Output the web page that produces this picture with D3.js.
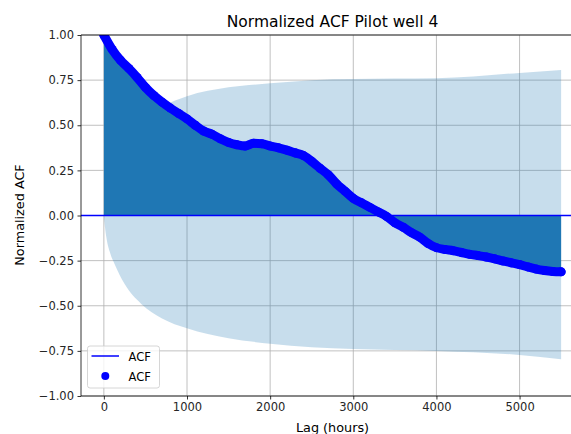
<!DOCTYPE html>
<html><head><meta charset="utf-8">
<script src="https://cdn.jsdelivr.net/npm/d3@7"></script>
<style>body{margin:0;background:#fff}svg{display:block;font-family:"DejaVu Sans",sans-serif}</style>
</head><body>
<svg id="c" width="571" height="434"></svg>
<script>
const lags = [0,100,200,300,400,500,600,700,800,900,1000,1100,1200,1300,1400,1500,1600,1700,1800,1900,2000,2100,2200,2300,2400,2500,2600,2700,2800,2900,3000,3100,3200,3300,3400,3500,3600,3700,3800,3900,4000,4100,4200,4300,4400,4500,4600,4700,4800,4900,5000,5100,5200,5300,5400,5500];
const acf = [1.00,0.92,0.86,0.815,0.765,0.71,0.665,0.628,0.595,0.565,0.535,0.50,0.468,0.45,0.425,0.405,0.392,0.385,0.40,0.398,0.385,0.375,0.362,0.347,0.332,0.30,0.262,0.225,0.175,0.135,0.095,0.07,0.045,0.02,-0.005,-0.04,-0.065,-0.095,-0.12,-0.155,-0.178,-0.188,-0.195,-0.205,-0.215,-0.222,-0.23,-0.24,-0.252,-0.262,-0.272,-0.285,-0.297,-0.305,-0.31,-0.312];
const bandLags = [0,10,30,70,130,250,450,700,1000,1500,2000,2500,3000,4000,5000,5500];
const bandUpper = [0,0.05,0.12,0.2,0.27,0.39,0.51,0.60,0.66,0.71,0.732,0.75,0.756,0.76,0.79,0.806];
const bandLower = [0,-0.05,-0.12,-0.2,-0.27,-0.38,-0.49,-0.57,-0.625,-0.68,-0.71,-0.73,-0.74,-0.75,-0.773,-0.797];
const xTicks = [0,1000,2000,3000,4000,5000];
const yTicks = [-1,-0.75,-0.5,-0.25,0,0.25,0.5,0.75,1];
const title = "Normalized ACF Pilot well 4";
const xLabel = "Lag (hours)";
const yLabel = "Normalized ACF";
const legendLabels = ["ACF","ACF"];

const L=81,R=584,T=35,B=396;
const svg=d3.select("#c");
const x=d3.scaleLinear().domain([-275,5775]).range([L,R]);
const y=d3.scaleLinear().domain([-1,1]).range([B,T]);
svg.append("defs").append("clipPath").attr("id","clip").append("rect").attr("x",L).attr("y",T).attr("width",R-L).attr("height",B-T);

// grid
const g=svg.append("g");
g.selectAll(".gx").data(xTicks).join("line").attr("x1",d=>x(d)).attr("x2",d=>x(d)).attr("y1",T).attr("y2",B).attr("stroke","#b0b0b0").attr("stroke-width",0.8);
g.selectAll(".gy").data(yTicks).join("line").attr("y1",d=>y(d)).attr("y2",d=>y(d)).attr("x1",L).attr("x2",R).attr("stroke","#b0b0b0").attr("stroke-width",0.8);

const plot=svg.append("g").attr("clip-path","url(#clip)");
const band=bandLags.map((l,i)=>({l,u:bandUpper[i],d:bandLower[i]}));
plot.append("path").datum(band).attr("d",d3.area().x(d=>x(d.l)).y0(d=>y(d.d)).y1(d=>y(d.u)).curve(d3.curveMonotoneX)).attr("fill","#1f77b4").attr("fill-opacity",0.25);
const pts=lags.map((l,i)=>({l,v:acf[i]}));
plot.append("path").datum(pts).attr("d",d3.area().x(d=>x(d.l)).y0(y(0)).y1(d=>y(d.v))).attr("fill","#1f77b4");
plot.append("line").attr("x1",L).attr("x2",R).attr("y1",y(0)).attr("y2",y(0)).attr("stroke","#0000ff").attr("stroke-width",1.5);
plot.append("path").datum(pts).attr("d",d3.line().x(d=>x(d.l)).y(d=>y(d.v)).curve(d3.curveMonotoneX)).attr("fill","none").attr("stroke","#0000ff").attr("stroke-width",9).attr("stroke-linecap","round").attr("stroke-linejoin","round");
plot.selectAll(".dot").data(pts).join("circle").attr("cx",d=>x(d.l)).attr("cy",d=>y(d.v)).attr("r",4.5).attr("fill","#0000ff");

// axes
const ax=svg.append("g").attr("transform",`translate(0,${B})`).call(d3.axisBottom(x).tickValues(xTicks).tickFormat(d3.format("d")).tickSize(3.5).tickPadding(3.5));
const ay=svg.append("g").attr("transform",`translate(${L},0)`).call(d3.axisLeft(y).tickValues(yTicks).tickFormat(d=>d3.format(".2f")(d).replace("-","\u2212")).tickSize(3.5).tickPadding(3.5));
[ax,ay].forEach(a=>{a.selectAll("text").attr("font-size",11.5).attr("fill","#262626").attr("font-family","DejaVu Sans");a.selectAll("line").attr("stroke","#000").attr("stroke-width",0.8);a.select(".domain").remove();});
svg.append("line").attr("x1",L).attr("x2",L).attr("y1",T).attr("y2",B).attr("stroke","#000").attr("stroke-width",0.8);
svg.append("line").attr("x1",L).attr("x2",R).attr("y1",B).attr("y2",B).attr("stroke","#000").attr("stroke-width",0.8);
svg.append("line").attr("x1",L).attr("x2",R).attr("y1",T).attr("y2",T).attr("stroke","#000").attr("stroke-width",0.8);

svg.append("text").attr("x",(L+R)/2).attr("y",26.5).attr("text-anchor","middle").attr("font-size",15.5).text(title);
svg.append("text").attr("x",(L+R)/2).attr("y",431.5).attr("text-anchor","middle").attr("font-size",12.8).text(xLabel);
svg.append("text").attr("transform","translate(23.5,215) rotate(-90)").attr("text-anchor","middle").attr("font-size",12.8).text(yLabel);

// legend
const lg=svg.append("g");
lg.append("rect").attr("x",87.5).attr("y",346).attr("width",72).attr("height",42).attr("rx",2.5).attr("fill","#fff").attr("fill-opacity",0.8).attr("stroke","#cccccc").attr("stroke-width",0.8);
lg.append("line").attr("x1",91.5).attr("x2",119).attr("y1",356).attr("y2",356).attr("stroke","#0000ff").attr("stroke-width",1.5);
lg.append("circle").attr("cx",105.3).attr("cy",376).attr("r",4).attr("fill","#0000ff");
lg.selectAll(".lt").data(legendLabels).join("text").attr("x",128.5).attr("y",(d,i)=>360.5+i*20).attr("font-size",11.5).text(d=>d);
</script>
</body></html>
